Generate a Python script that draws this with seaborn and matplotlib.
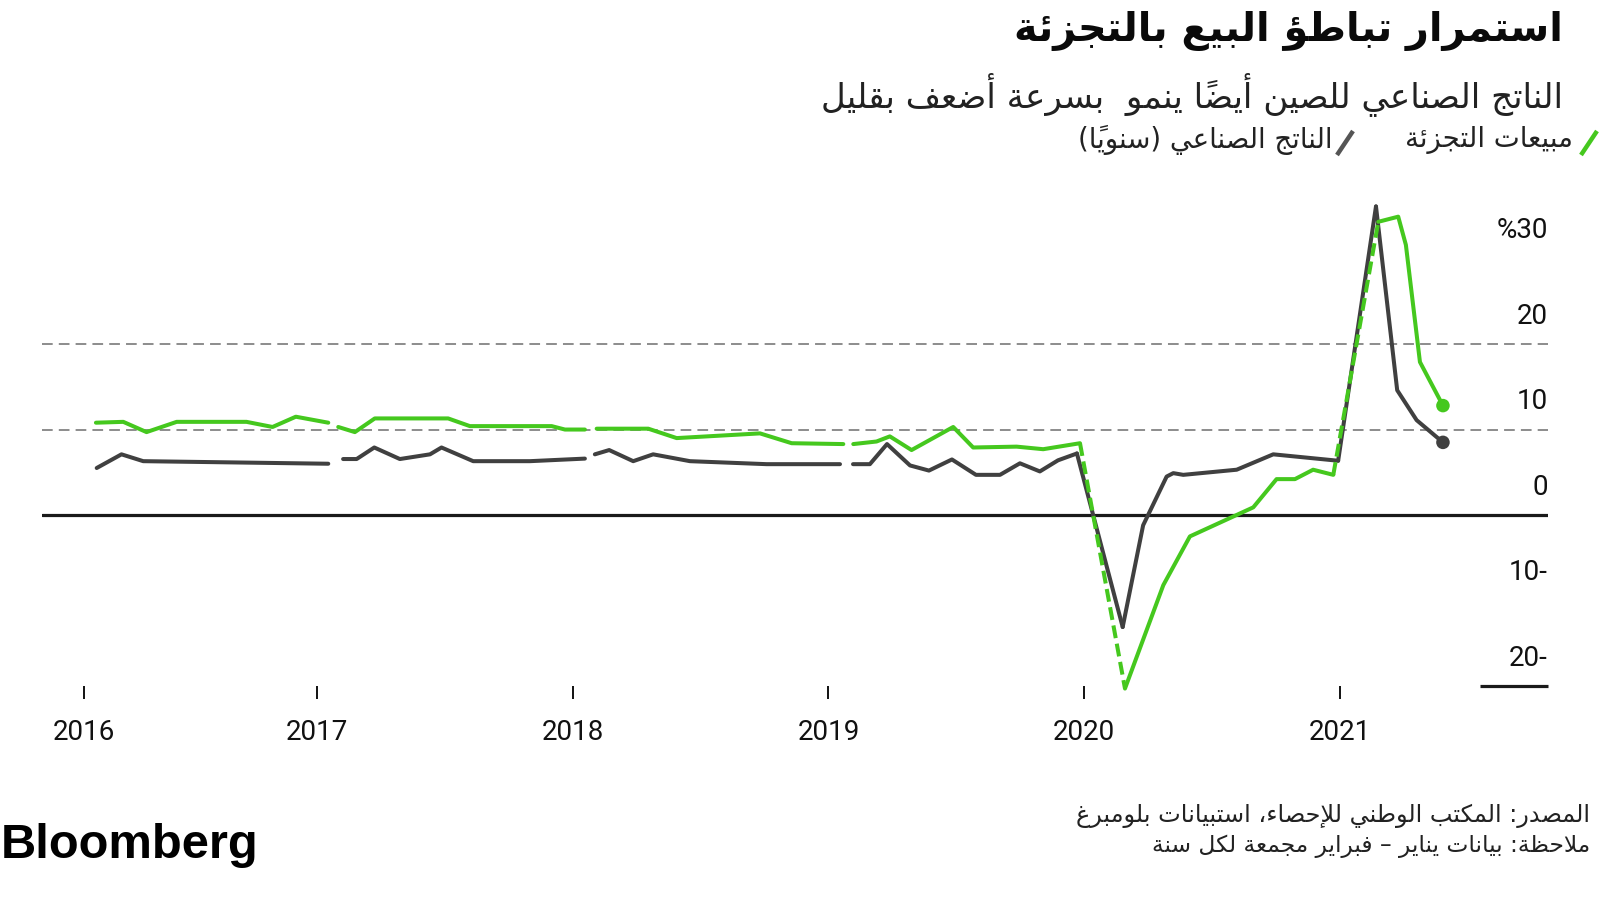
import matplotlib
matplotlib.use("Agg")
import matplotlib.pyplot as plt
import seaborn as sns
import pandas as pd
from matplotlib.lines import Line2D

# ---------------- data ----------------
tick_pos = [2016.087, 2017, 2018, 2019, 2020, 2021]
tick_labels = ["2016", "2017", "2018", "2019", "2020", "2021"]

retail_x_2016 = [2016.134, 2016.241, 2016.332, 2016.450, 2016.723, 2016.825, 2016.916, 2017.043]
retail_y_2016 = [10.8, 10.9, 9.7, 10.9, 10.9, 10.3, 11.5, 10.8]
retail_x_2017 = [2017.082, 2017.147, 2017.225, 2017.512, 2017.597, 2017.917, 2017.969, 2018.047]
retail_y_2017 = [10.3, 9.7, 11.3, 11.3, 10.4, 10.4, 10.0, 10.0]
retail_x_2018 = [2018.093, 2018.295, 2018.406, 2018.732, 2018.856, 2019.058]
retail_y_2018 = [10.1, 10.1, 9.0, 9.55, 8.4, 8.3]
retail_x_2019 = [2019.097, 2019.188, 2019.240, 2019.325, 2019.488, 2019.566, 2019.736, 2019.840, 2019.984]
retail_y_2019 = [8.3, 8.6, 9.2, 7.6, 10.3, 7.9, 8.0, 7.7, 8.4]
retail_x_2020 = [2020.160, 2020.310, 2020.414, 2020.662, 2020.753, 2020.825, 2020.896, 2020.975]
retail_y_2020 = [-20.3, -8.2, -2.5, 0.9, 4.2, 4.2, 5.3, 4.7]
retail_x_2021 = [2021.151, 2021.229, 2021.259, 2021.314, 2021.404]
retail_y_2021 = [34.3, 34.9, 31.6, 17.9, 12.8]

ip_x_2016 = [2016.137, 2016.234, 2016.319, 2017.043]
ip_y_2016 = [5.5, 7.1, 6.3, 6.0]
ip_x_2017 = [2017.101, 2017.154, 2017.223, 2017.323, 2017.441, 2017.486, 2017.610, 2017.832, 2018.047]
ip_y_2017 = [6.55, 6.55, 7.9, 6.55, 7.1, 7.9, 6.3, 6.3, 6.6]
ip_x_2018 = [2018.086, 2018.142, 2018.236, 2018.314, 2018.458, 2018.758, 2019.045]
ip_y_2018 = [7.1, 7.6, 6.3, 7.1, 6.3, 5.95, 5.95]
ip_x_2019 = [2019.096, 2019.162, 2019.229, 2019.319, 2019.393, 2019.483, 2019.577, 2019.671,
             2019.749, 2019.827, 2019.898, 2019.972]
ip_y_2019 = [5.95, 5.95, 8.3, 5.8, 5.2, 6.5, 4.7, 4.7, 6.05, 5.1, 6.4, 7.2]
ip_x_2020 = [2020.151, 2020.231, 2020.323, 2020.349, 2020.388, 2020.597, 2020.740, 2020.994]
ip_y_2020 = [-13.1, -1.2, 4.5, 4.9, 4.7, 5.3, 7.1, 6.35]
ip_x_2021 = [2021.142, 2021.225, 2021.301, 2021.404]
ip_y_2021 = [36.1, 14.6, 11.1, 8.5]

joined_years = [2020, 2021]      # Dec -> Jan/Feb links drawn in these years

y_ticks = [-20, -10, 0, 10, 20, 30]
y_tick_labels = ["20-", "10-", "0", "10", "20", "%30"]
dashed_grid = [10, 20]

title = "استمرار تباطؤ البيع بالتجزئة"
subtitle = "الناتج الصناعي للصين أيضاً ينمو  بسرعة أضعف بقليل"
legend_retail = "مبيعات التجزئة"
legend_ip = "الناتج الصناعي (سنوياً)"
source = "المصدر: المكتب الوطني للإحصاء، استبيانات بلومبرغ"
note = "ملاحظة: بيانات يناير – فبراير مجمعة لكل سنة"
brand = "Bloomberg"

GREEN = "#45c81e"
DARK = "#404040"

# ---------------- minimal Arabic shaping (presentation forms + RTL) ----------------
_D = {'\u0626': 0xFE89, '\u0628': 0xFE8F, '\u062A': 0xFE95, '\u062B': 0xFE99, '\u062C': 0xFE9D,
      '\u062D': 0xFEA1, '\u062E': 0xFEA5, '\u0633': 0xFEB1, '\u0634': 0xFEB5, '\u0635': 0xFEB9,
      '\u0636': 0xFEBD, '\u0637': 0xFEC1, '\u0638': 0xFEC5, '\u0639': 0xFEC9, '\u063A': 0xFECD,
      '\u0641': 0xFED1, '\u0642': 0xFED5, '\u0643': 0xFED9, '\u0644': 0xFEDD, '\u0645': 0xFEE1,
      '\u0646': 0xFEE5, '\u0647': 0xFEE9, '\u064A': 0xFEF1}
_R = {'\u0622': 0xFE81, '\u0623': 0xFE83, '\u0624': 0xFE85, '\u0625': 0xFE87, '\u0627': 0xFE8D,
      '\u0629': 0xFE93, '\u062F': 0xFEA9, '\u0630': 0xFEAB, '\u0631': 0xFEAD, '\u0632': 0xFEAF,
      '\u0648': 0xFEED, '\u0649': 0xFEEF}
_LAMALEF = {'\u0622': 0xFEF5, '\u0623': 0xFEF7, '\u0625': 0xFEF9, '\u0627': 0xFEFB}
_MARKS = set(chr(c) for c in range(0x064B, 0x0653)) | {'\u0670'}
_MIRROR = {'(': ')', ')': '('}


def _jt(c):
    if c in _D or c == '\u0640':
        return 'D'
    if c in _R:
        return 'R'
    if c in _MARKS:
        return 'T'
    return 'U'


def ar(text):
    ch = list(text)
    n = len(ch)
    out = []
    i = 0
    while i < n:
        c = ch[i]
        t = _jt(c)
        if t == 'T':
            if out:
                out[-1] += c
            else:
                out.append(c)
            i += 1
            continue
        j = i - 1
        while j >= 0 and _jt(ch[j]) == 'T':
            j -= 1
        prev_join = j >= 0 and _jt(ch[j]) == 'D'
        k = i + 1
        while k < n and _jt(ch[k]) == 'T':
            k += 1
        nxt = ch[k] if k < n else None
        if c == '\u0644' and nxt in _LAMALEF:
            cl = chr(_LAMALEF[nxt] + (1 if prev_join else 0))
            m = k + 1
            while m < n and _jt(ch[m]) == 'T':
                m += 1
            cl += ''.join(ch[i + 1:k]) + ''.join(ch[k + 1:m])
            out.append(cl)
            i = m
            continue
        if t == 'D' and c != '\u0640':
            nj = nxt is not None and _jt(nxt) in ('D', 'R')
            b = _D[c]
            g = b + 3 if (prev_join and nj) else b + 1 if prev_join else b + 2 if nj else b
            out.append(chr(g))
        elif t == 'R':
            out.append(chr(_R[c] + (1 if prev_join else 0)))
        elif c == '\u0621':
            out.append('\uFE80')
        else:
            out.append(_MIRROR.get(c, c))
        i += 1
    return ''.join(reversed(out))


# ---------------- build long tables ----------------
retail = {2016: (retail_x_2016, retail_y_2016), 2017: (retail_x_2017, retail_y_2017),
          2018: (retail_x_2018, retail_y_2018), 2019: (retail_x_2019, retail_y_2019),
          2020: (retail_x_2020, retail_y_2020), 2021: (retail_x_2021, retail_y_2021)}
ip = {2016: (ip_x_2016, ip_y_2016), 2017: (ip_x_2017, ip_y_2017),
      2018: (ip_x_2018, ip_y_2018), 2019: (ip_x_2019, ip_y_2019),
      2020: (ip_x_2020, ip_y_2020), 2021: (ip_x_2021, ip_y_2021)}


def tables(data):
    seg_rows, link_rows = [], []
    prev = None
    for yr in sorted(data):
        xs, ys = data[yr]
        for x, y in zip(xs, ys):
            seg_rows.append({"x": x, "y": y, "seg": yr})
        if prev is not None and yr in joined_years:
            link_rows.append({"x": prev[0], "y": prev[1], "seg": yr})
            link_rows.append({"x": xs[0], "y": ys[0], "seg": yr})
        prev = (xs[-1], ys[-1])
    return pd.DataFrame(seg_rows), pd.DataFrame(link_rows)


retail_seg, retail_link = tables(retail)
ip_seg, ip_link = tables(ip)

# ---------------- figure ----------------
sns.set_theme(style="white")
plt.rcParams["font.family"] = ["Roboto", "DejaVu Sans"]

W, H = 1600, 899
fig = plt.figure(figsize=(W / 100, H / 100), dpi=100)
fig.patch.set_facecolor("white")
ax = fig.add_axes([42 / W, 1 - 686 / H, (1548 - 42) / W, (686 - 203) / H])
ax.set_facecolor("white")

for v in dashed_grid:
    ax.axhline(v, color="#6e6e6e", lw=1.1, linestyle=(0, (7, 4)), zorder=0)
ax.axhline(0, color="#1a1a1a", lw=2.3, zorder=1)

lw = 2.9
# industrial output (dark)
sns.lineplot(data=ip_seg, x="x", y="y", units="seg", estimator=None, sort=False,
             color=DARK, linewidth=lw, ax=ax, zorder=3, clip_on=False,
             solid_joinstyle="round", solid_capstyle="round")
sns.lineplot(data=ip_link, x="x", y="y", units="seg", estimator=None, sort=False,
             color=DARK, linewidth=lw, ax=ax, zorder=3, clip_on=False,
             solid_joinstyle="round", solid_capstyle="round")
# retail sales (green)
sns.lineplot(data=retail_seg, x="x", y="y", units="seg", estimator=None, sort=False,
             color=GREEN, linewidth=lw, ax=ax, zorder=4, clip_on=False,
             solid_joinstyle="round", solid_capstyle="round")
sns.lineplot(data=retail_link, x="x", y="y", units="seg", estimator=None, sort=False,
             color=GREEN, linewidth=lw, ax=ax, zorder=4, clip_on=False,
             linestyle=(0, (3.2, 1.4)), dash_capstyle="butt")

# end dots
sns.scatterplot(x=[ip_x_2021[-1]], y=[ip_y_2021[-1]], color=DARK, s=95, ax=ax,
                zorder=6, edgecolor="none", clip_on=False, legend=False)
sns.scatterplot(x=[retail_x_2021[-1]], y=[retail_y_2021[-1]], color=GREEN, s=95, ax=ax,
                zorder=6, edgecolor="none", clip_on=False, legend=False)

ax.set_xlim(2015.923, 2021.815)
ax.set_ylim(-20, 36.5)
ax.set_xlabel("")
ax.set_ylabel("")
for s in ax.spines.values():
    s.set_visible(False)

# short baseline mark at -20 on the right
ax.hlines(-20, 2021.549, 2021.815, color="#1a1a1a", lw=2.3, clip_on=False, zorder=2)

ax.set_xticks(tick_pos)
ax.set_xticklabels(tick_labels)
ax.tick_params(axis="x", bottom=True, length=9.4, width=1.4, color="#111111", pad=14.5,
               labelsize=20, labelcolor="#111111")
ax.set_yticks([])

for v, lab in zip(y_ticks, y_tick_labels):
    ax.annotate(lab, xy=(1.0, v), xycoords=("axes fraction", "data"),
                xytext=(0, 20), textcoords="offset points", ha="right", va="center",
                fontsize=20, color="#111111")

# ---------------- texts ----------------
renderer = fig.canvas.get_renderer()


def fit_text(x_px, y_px, s, width_px, ha, **kw):
    t = fig.text(x_px / W, 1 - y_px / H, s, ha=ha, va="center", **kw)
    w = t.get_window_extent(renderer).width
    t.set_fontsize(t.get_fontsize() * width_px / w)
    return t


fit_text(1563, 31, ar(title), 548, "right", family=["DejaVu Sans"], fontweight="bold",
         fontsize=30, color="#0a0a0a")
fit_text(1563, 94, ar(subtitle), 747, "right", family=["DejaVu Sans"], fontsize=24,
         color="#222222")
fit_text(1573, 140, ar(legend_retail), 168, "right", family=["DejaVu Sans"], fontsize=18,
         color="#222222")
fit_text(1332, 140, ar(legend_ip), 255, "right", family=["DejaVu Sans"], fontsize=18,
         color="#222222")
fig.add_artist(Line2D([1581 / W, 1597 / W], [1 - 155 / H, 1 - 131 / H], color=GREEN, lw=3.2,
                      solid_capstyle="butt"))
fig.add_artist(Line2D([1337 / W, 1353 / W], [1 - 155 / H, 1 - 131 / H], color="#555555",
                      lw=3.2, solid_capstyle="butt"))

fit_text(1590, 816, ar(source), 513, "right", family=["DejaVu Sans"], fontsize=16,
         color="#222222")
fit_text(1590, 846, ar(note), 440, "right", family=["DejaVu Sans"], fontsize=16,
         color="#222222")
fit_text(1, 846, brand, 258, "left", family=["Liberation Sans"], fontweight="bold",
         fontsize=34, color="#000000")

fig.savefig("out.png", dpi=100, facecolor="white")
